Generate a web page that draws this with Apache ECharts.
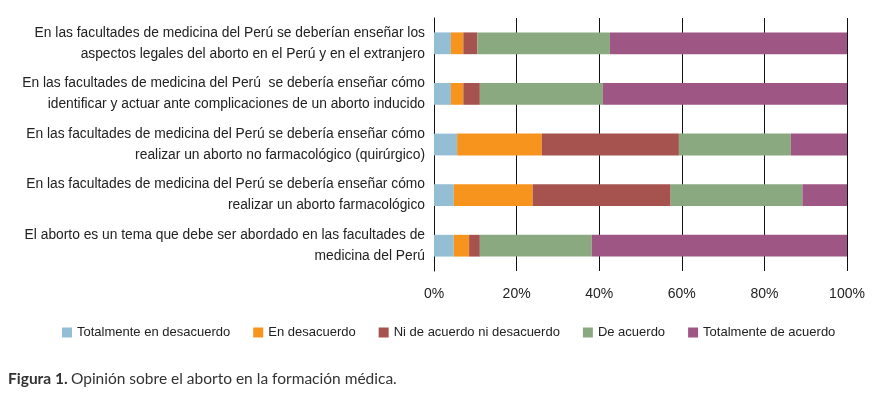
<!DOCTYPE html>
<html>
<head>
<meta charset="utf-8">
<script src="https://cdn.jsdelivr.net/npm/echarts@6/dist/echarts.min.js"></script>
<style>
html,body{margin:0;padding:0;background:#fff;}
#chart{width:883px;height:397px;}
</style>
</head>
<body>
<div id="chart"></div>
<script>
const categories = [
  "En las facultades de medicina del Perú se deberían enseñar los\naspectos legales del aborto en el Perú y en el extranjero",
  "En las facultades de medicina del Perú  se debería enseñar cómo\nidentificar y actuar ante complicaciones de un aborto inducido",
  "En las facultades de medicina del Perú se debería enseñar cómo\nrealizar un aborto no farmacológico (quirúrgico)",
  "En las facultades de medicina del Perú se debería enseñar cómo\nrealizar un aborto farmacológico",
  "El aborto es un tema que debe ser abordado en las facultades de\nmedicina del Perú"
];
const seriesNames = ["Totalmente en desacuerdo","En desacuerdo","Ni de acuerdo ni desacuerdo","De acuerdo","Totalmente de acuerdo"];
const totDesacuerdo = [4.1, 4.1, 5.6, 4.8, 4.8];
const enDesacuerdo  = [3.0, 3.0, 20.5, 19.1, 3.7];
const niNi          = [3.4, 4.0, 33.2, 33.4, 2.6];
const deAcuerdo     = [32.1, 29.8, 27.1, 31.9, 27.1];
const totAcuerdo    = [57.4, 59.1, 13.6, 10.8, 61.8];
const xTicks = [0, 20, 40, 60, 80, 100];
const colors = ["#94BED4", "#F7941D", "#A6534F", "#8BA980", "#9E5784"];

const FONT = "'Liberation Sans', Arial, sans-serif";
const values = [totDesacuerdo, enDesacuerdo, niNi, deAcuerdo, totAcuerdo];
const chart = echarts.init(document.getElementById('chart'));
chart.setOption({
  animation: false,
  textStyle: {fontFamily: FONT},
  grid: {left: 434, right: 36, top: 18, bottom: 126},
  legend: {
    data: seriesNames,
    top: 321,
    left: 57,
    itemWidth: 10,
    itemHeight: 10,
    itemGap: 23,
    icon: 'rect',
    textStyle: {fontSize: 13, color: '#222', fontFamily: FONT}
  },
  xAxis: {
    type: 'value',
    min: xTicks[0],
    max: xTicks[xTicks.length - 1],
    interval: 20,
    axisLine: {show: false},
    axisTick: {show: false},
    splitLine: {show: true, lineStyle: {color: '#111', width: 1}},
    axisLabel: {formatter: '{value}%', fontSize: 14, color: '#222', margin: 16, fontFamily: FONT}
  },
  yAxis: {
    type: 'category',
    inverse: true,
    data: categories,
    axisLine: {show: true, lineStyle: {color: '#111', width: 1}},
    axisTick: {show: false},
    axisLabel: {fontSize: 13.8, color: '#222', margin: 9, align: 'right', lineHeight: 21, fontFamily: FONT}
  },
  series: seriesNames.map((n, i) => ({
    name: n,
    type: 'bar',
    stack: 'total',
    barWidth: '43%',
    itemStyle: {color: colors[i]},
    data: values[i]
  })),
  graphic: [{
    type: 'text',
    left: 8,
    top: 371,
    style: {
      rich: {
        b: {fontFamily: 'Lato, sans-serif', fontWeight: 'bold', fontSize: 15.5, fill: '#333'},
        n: {fontFamily: 'Lato, sans-serif', fontSize: 15.5, fill: '#333'}
      },
      text: '{b|Figura 1.} {n|Opinión sobre el aborto en la formación médica.}'
    }
  }]
});
</script>
</body>
</html>
